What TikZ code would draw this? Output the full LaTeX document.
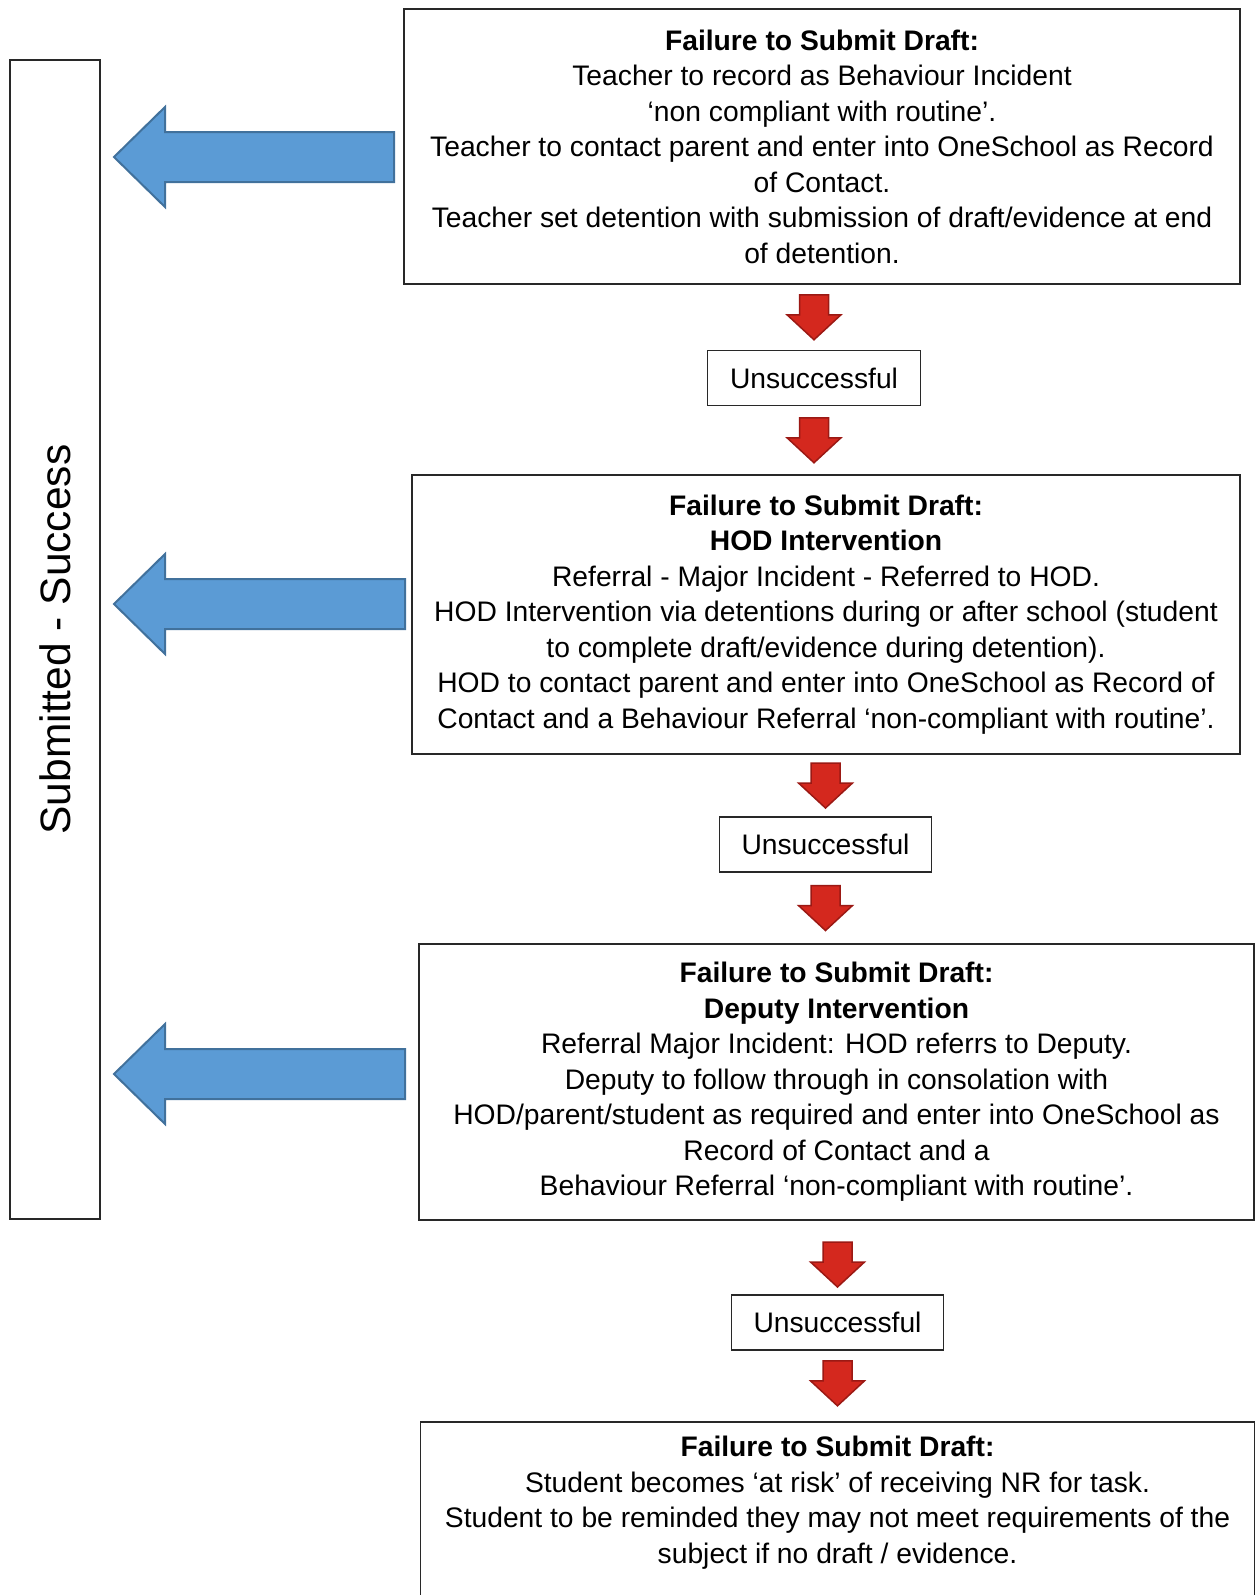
\documentclass[tikz,border=0pt]{standalone}
\usepackage{fontspec}
\setmainfont{Liberation Sans}
\usetikzlibrary{calc}

\definecolor{boxline}{RGB}{40,40,40}
\definecolor{bluefill}{RGB}{91,155,213}
\definecolor{blueline}{RGB}{65,113,156}
\definecolor{redfill}{RGB}{212,40,30}
\definecolor{redline}{RGB}{155,25,20}

\tikzset{
  stepbox/.style={draw=boxline, line width=0.5pt, align=center, inner sep=0pt,
    font=\fontsize{11.3}{14.2}\selectfont},
  resultbox/.style={stepbox, minimum width=85pt, minimum height=22pt},
  redarrow/.pic={
    \draw[fill=redfill, draw=redline, line width=0.6pt, line join=miter]
      (-14.5,-22.5) -- (14.5,-22.5) -- (14.5,-2.5) -- (27,-2.5) -- (0,22.5)
      -- (-27,-2.5) -- (-14.5,-2.5) -- cycle;
  },
  bluearrow/.pic={
    \draw[fill=bluefill, draw=blueline, line width=0.8pt, line join=miter]
      (0,0) -- (51,-50) -- (51,-25) -- (#1,-25) -- (#1,25) -- (51,25)
      -- (51,50) -- cycle;
  }
}

\begin{document}
\begin{tikzpicture}[x=0.4pt, y=-0.4pt]
\useasboundingbox (0,0) rectangle (1257,1595);
\clip (0,0) rectangle (1257,1595);

% side box
\node[stepbox, minimum width=36pt, minimum height=463.6pt] (side) at (55,639.5) {};
\node[rotate=90, font=\fontsize{17}{20}\selectfont] (sidetext) at (side.center) {Submitted - Success};

% steps
\node[stepbox, minimum width=334.4pt, minimum height=110pt] (teacher) at (822,146.5)
  {\textbf{Failure to Submit Draft:}\\
   Teacher to record as Behaviour Incident\\
   ‘non compliant with routine’.\\
   Teacher to contact parent and enter into OneSchool as Record\\
   of Contact.\\
   Teacher set detention with submission of draft/evidence at end\\
   of detention.};
\node[resultbox] (un1) at (814,378) {Unsuccessful};

\node[stepbox, minimum width=331.2pt, minimum height=111.6pt] (hod) at (826,614.5)
  {\textbf{Failure to Submit Draft:}\\
   \textbf{HOD Intervention}\\
   Referral - Major Incident - Referred to HOD.\\
   HOD Intervention via detentions during or after school (student\\
   to complete draft/evidence during detention).\\
   HOD to contact parent and enter into OneSchool as Record of\\
   Contact and a Behaviour Referral ‘non-compliant with routine’.};
\node[resultbox] (un2) at (825.5,844.5) {Unsuccessful};

\node[stepbox, minimum width=334pt, minimum height=110.4pt] (deputy) at (836.5,1082)
  {\textbf{Failure to Submit Draft:}\\
   \textbf{Deputy Intervention}\\
   Referral Major Incident: HOD referrs to Deputy.\\
   Deputy to follow through in consolation with\\
   HOD/parent/student as required and enter into OneSchool as\\
   Record of Contact and a\\
   Behaviour Referral ‘non-compliant with routine’.};
\node[resultbox] (un3) at (837.5,1322.5) {Unsuccessful};

\node[stepbox, draw=none, minimum width=333.2pt, minimum height=64pt, anchor=north] (final) at (837.5,1422)
  {\textbf{Failure to Submit Draft:}\\
   Student becomes ‘at risk’ of receiving NR for task.\\
   Student to be reminded they may not meet requirements of the\\
   subject if no draft / evidence.};
\draw[draw=boxline, line width=0.5pt] (final.south west) ++(0,100) |- (final.north east) -- ++(0,300);

% red arrows
\pic at ($(teacher.south -| un1)!0.5!(un1.north)$) {redarrow};
\pic at ($(un1.south)!0.5!(un1.south |- hod.north)$) {redarrow};
\pic at ($(hod.south -| un2)!0.5!(un2.north)$) {redarrow};
\pic at ($(un2.south)!0.5!(un2.south |- deputy.north)$) {redarrow};
\pic at ($(deputy.south -| un3)!0.5!(un3.north) + (0,7)$) {redarrow};
\pic at ($(un3.south)!0.5!(un3.south |- final.north) + (0,-3)$) {redarrow};

% blue arrows
\pic at (114,157) {bluearrow=280};
\pic at (114,604) {bluearrow=291};
\pic at (114,1074) {bluearrow=291};
\end{tikzpicture}
\end{document}
